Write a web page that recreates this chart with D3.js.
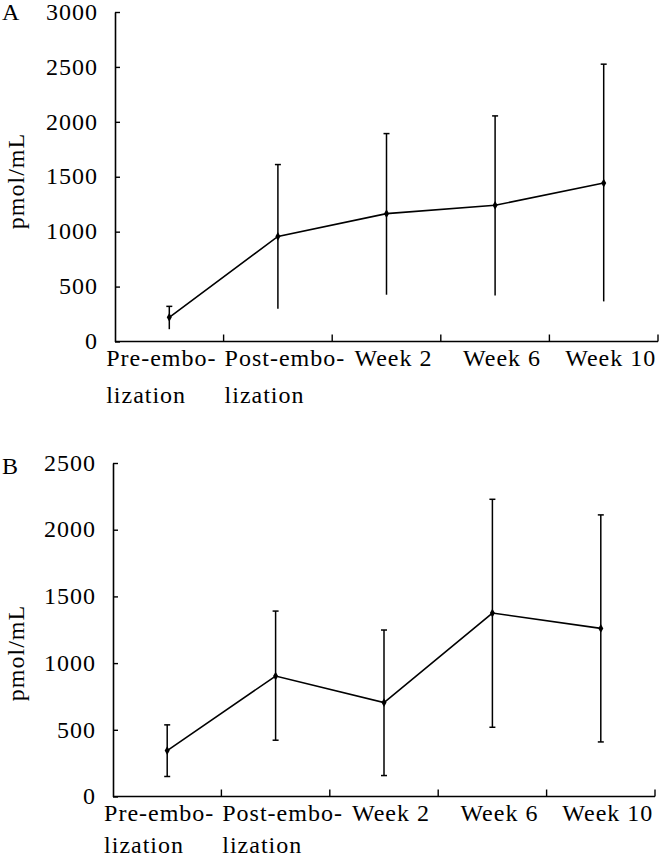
<!DOCTYPE html>
<html>
<head>
<meta charset="utf-8">
<script src="https://cdn.jsdelivr.net/npm/d3@7"></script>
<style>
  html, body { margin: 0; padding: 0; background: #fff; }
  svg text { font-family: "Liberation Serif", "Times New Roman", serif; fill: #000; }
</style>
</head>
<body>
<svg id="chart" width="666" height="856"></svg>
<script>
// ---- data ----
const categories = ["Pre-embolization", "Post-embolization", "Week 2", "Week 6", "Week 10"];
const categoryLabelLines = [["Pre-embo-", "lization"], ["Post-embo-", "lization"], ["Week 2"], ["Week 6"], ["Week 10"]];

const meanA  = [220, 957, 1164, 1240, 1443];
const upperA = [320, 1611, 1893, 2054, 2525];
const lowerA = [112, 298, 426, 419, 365];
const yTicksA = [0, 500, 1000, 1500, 2000, 2500, 3000];

const meanB  = [344, 903, 704, 1375, 1260];
const upperB = [537, 1390, 1248, 2228, 2111];
const lowerB = [150, 422, 157, 519, 409];
const yTicksB = [0, 500, 1000, 1500, 2000, 2500];

const yTitle = "pmol/mL";

// ---- drawing ----
const svg = d3.select("#chart");
const FS = 24;

function panel(opts) {
  const { letter, mean, upper, lower, yTicks, left, right, top, bottom, lowerCaps, titleCenterY, letterY, lineGap } = opts;
  const g = svg.append("g");
  const x = d3.scaleBand().domain(categories).range([left, right]).padding(0);
  const y = d3.scaleLinear().domain([0, d3.max(yTicks)]).range([bottom, top]);

  // y axis
  const yAxis = d3.axisLeft(y).tickValues(yTicks).tickFormat(d3.format("d"))
    .tickSizeInner(-5).tickSizeOuter(0).tickPadding(17);
  const ya = g.append("g").attr("transform", `translate(${left},0)`).call(yAxis);
  ya.select(".domain").attr("stroke", "#000").attr("stroke-width", 1.6);
  ya.selectAll(".tick line").attr("stroke", "#000").attr("stroke-width", 1.4);
  ya.selectAll(".tick text").attr("font-size", FS).attr("letter-spacing", 1)
    .attr("font-family", "Liberation Serif").attr("fill", "#000").attr("dy", "0.3em");

  // x axis line
  g.append("line").attr("x1", left).attr("x2", right).attr("y1", bottom).attr("y2", bottom)
    .attr("stroke", "#000").attr("stroke-width", 1.6);
  // ticks at band boundaries
  g.selectAll(".xtick").data(categories).join("line").attr("class", "xtick")
    .attr("x1", d => x(d) + x.bandwidth()).attr("x2", d => x(d) + x.bandwidth())
    .attr("y1", bottom).attr("y2", bottom - 7)
    .attr("stroke", "#000").attr("stroke-width", 1.4);

  // x labels (first label nudged left, the rest right, as in the original layout)
  categories.forEach((c, i) => {
    const lines = categoryLabelLines[i];
    const t = g.append("text").attr("font-size", FS).attr("letter-spacing", 1);
    lines.forEach((ln, j) => {
      t.append("tspan").attr("y", bottom + 24 + j * lineGap).text(ln);
    });
    const w = t.select("tspan").node().getComputedTextLength();
    const nudge = i === 0 ? -8 : 7;
    const sx = x(c) + x.bandwidth() / 2 - w / 2 + nudge;
    t.selectAll("tspan").attr("x", sx);
  });

  // error bars
  const capW = 3;
  categories.forEach((c, i) => {
    const cx = x(c) + x.bandwidth() / 2;
    g.append("line").attr("x1", cx).attr("x2", cx).attr("y1", y(upper[i])).attr("y2", y(lower[i]))
      .attr("stroke", "#000").attr("stroke-width", 1.5);
    g.append("line").attr("x1", cx - capW).attr("x2", cx + capW).attr("y1", y(upper[i])).attr("y2", y(upper[i]))
      .attr("stroke", "#000").attr("stroke-width", 1.5);
    if (lowerCaps) {
      g.append("line").attr("x1", cx - capW).attr("x2", cx + capW).attr("y1", y(lower[i])).attr("y2", y(lower[i]))
        .attr("stroke", "#000").attr("stroke-width", 1.5);
    }
  });

  // mean line
  const line = d3.line().x((d, i) => x(categories[i]) + x.bandwidth() / 2).y(d => y(d));
  g.append("path").datum(mean).attr("d", line).attr("fill", "none")
    .attr("stroke", "#000").attr("stroke-width", 1.6);
  // markers
  g.selectAll(".pt").data(mean).join("path").attr("class", "pt")
    .attr("transform", (d, i) => `translate(${x(categories[i]) + x.bandwidth() / 2},${y(d)})`)
    .attr("d", d3.symbol().type(d3.symbolDiamond).size(22)).attr("fill", "#000");

  // y title
  g.append("text").attr("font-size", FS).attr("letter-spacing", 1)
    .attr("text-anchor", "middle")
    .attr("transform", `translate(24,${titleCenterY}) rotate(-90)`)
    .text(yTitle);

  // panel letter
  g.append("text").attr("font-size", FS).attr("x", 2).attr("y", letterY).text(letter);
}

panel({ letter: "A", mean: meanA, upper: upperA, lower: lowerA, yTicks: yTicksA,
  left: 115, right: 658, top: 12, bottom: 341.5, lowerCaps: false, titleCenterY: 181, letterY: 20, lineGap: 37 });
panel({ letter: "B", mean: meanB, upper: upperB, lower: lowerB, yTicks: yTicksB,
  left: 113, right: 655, top: 463, bottom: 796.5, lowerCaps: true, titleCenterY: 653, letterY: 474, lineGap: 32 });
</script>
</body>
</html>
